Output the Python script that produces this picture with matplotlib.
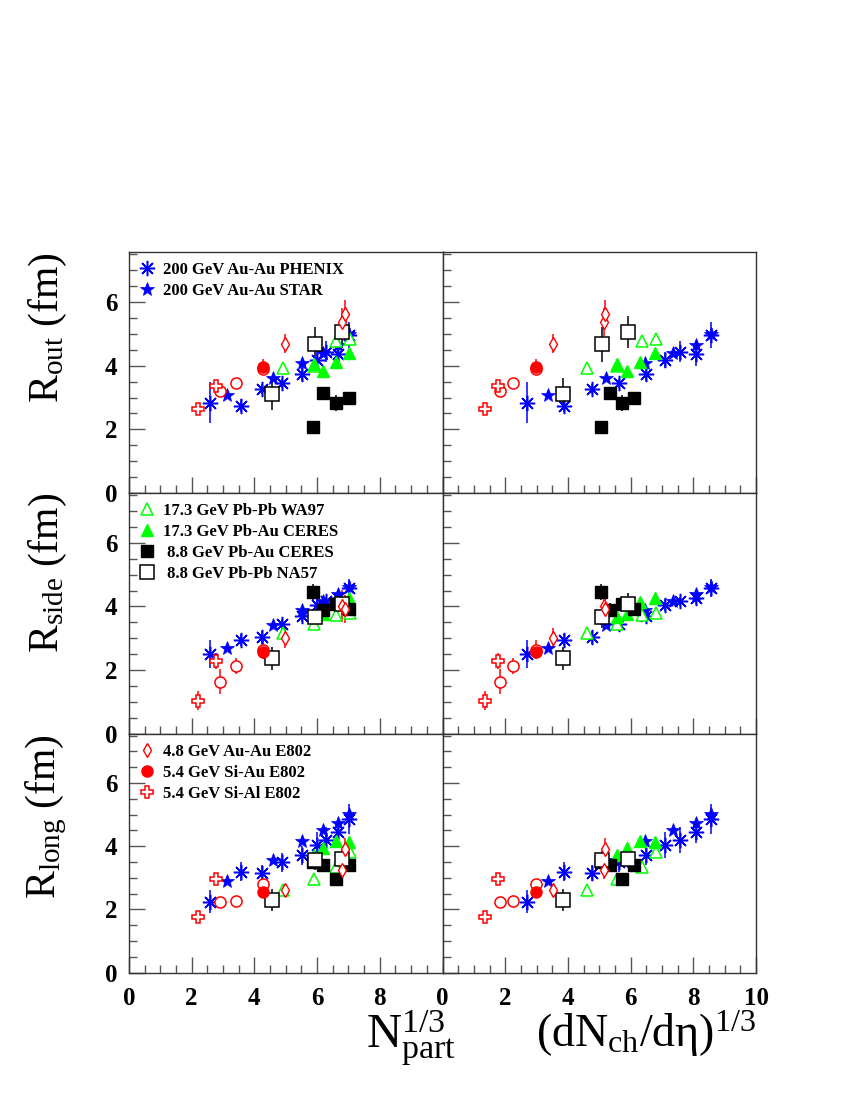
import matplotlib.pyplot as plt
import numpy as np
from matplotlib.ticker import MultipleLocator

plt.rcParams['font.family'] = 'serif'
plt.rcParams['font.serif'] = ['Liberation Serif', 'DejaVu Serif']
plt.rcParams['mathtext.fontset'] = 'custom'
plt.rcParams['mathtext.rm'] = 'Liberation Serif'
plt.rcParams['mathtext.it'] = 'Liberation Serif:italic'
plt.rcParams['mathtext.bf'] = 'Liberation Serif:bold'

# ------------------- data -------------------
# x: N_part^(1/3) (left column), (dN_ch/deta)^(1/3) (right column)
# y: R_out, R_side, R_long in fm, with errors

# 200 GeV Au-Au PHENIX
phenix_npart = [2.57, 3.56, 4.24, 4.88, 5.52, 6.01, 6.28, 6.67, 7.02]
phenix_dnch = [2.68, 3.88, 4.77, 5.63, 6.48, 7.11, 7.59, 8.08, 8.58]
phenix_rout = [2.84, 2.74, 3.27, 3.44, 3.73, 4.17, 4.44, 4.35, 4.96]
phenix_rout_err = [0.65, 0.2, 0.15, 0.15, 0.2, 0.25, 0.33, 0.37, 0.4]
phenix_rside = [2.51, 2.95, 3.03, 3.45, 3.71, 4.05, 4.16, 4.28, 4.58]
phenix_rside_err = [0.45, 0.2, 0.2, 0.15, 0.2, 0.2, 0.15, 0.2, 0.27]
phenix_rlong = [2.25, 3.19, 3.16, 3.50, 3.71, 4.04, 4.20, 4.44, 4.86]
phenix_rlong_err = [0.37, 0.3, 0.25, 0.3, 0.3, 0.4, 0.42, 0.35, 0.48]

# 200 GeV Au-Au STAR
star_npart = [3.13, 4.59, 5.52, 6.20, 6.67, 7.02]
star_dnch = [3.35, 5.22, 6.46, 7.36, 8.08, 8.58]
star_rout = [3.09, 3.62, 4.07, 4.41, 4.66, 4.98]
star_rside = [2.69, 3.41, 3.89, 4.17, 4.38, 4.60]
star_rlong = [2.90, 3.57, 4.18, 4.51, 4.73, 5.02]
star_err = [0.1, 0.1, 0.1, 0.1, 0.1, 0.1]

# 17.3 GeV Pb-Pb WA97
wa97_npart = [4.91, 5.89, 6.60, 7.04]
wa97_dnch = [4.61, 5.57, 6.36, 6.81]
wa97_rout = [3.91, 4.00, 4.77, 4.83]
wa97_rside = [3.16, 3.45, 3.73, 3.81]
wa97_rlong = [2.61, 2.95, 3.34, 3.81]
wa97_err = [0.1, 0.1, 0.1, 0.1]

# 17.3 GeV Pb-Au CERES
ceres17_npart = [5.89, 6.19, 6.60, 7.02]
ceres17_dnch = [5.57, 5.89, 6.31, 6.78]
ceres17_rout = [4.04, 3.83, 4.10, 4.38]
ceres17_rside = [3.66, 3.76, 4.14, 4.26]
ceres17_rlong = [3.71, 3.95, 4.16, 4.13]
ceres17_err = [0.15, 0.15, 0.15, 0.15]

# 8.8 GeV Pb-Au CERES
ceres9_npart = [5.88, 6.19, 6.60, 7.02]
ceres9_dnch = [5.04, 5.33, 5.71, 6.10]
ceres9_rout = [2.07, 3.14, 2.84, 2.98]
ceres9_rout_err = [0.2, 0.2, 0.25, 0.2]
ceres9_rside = [4.44, 3.90, 4.09, 3.91]
ceres9_rside_err = [0.25, 0.2, 0.2, 0.2]
ceres9_rlong = [3.50, 3.42, 2.95, 3.40]
ceres9_rlong_err = [0.2, 0.15, 0.15, 0.15]

# 8.8 GeV Pb-Pb NA57
na57_npart = [4.55, 5.93, 6.81]
na57_dnch = [3.85, 5.10, 5.91]
na57_rout = [3.10, 4.67, 5.06]
na57_rout_err = [0.5, 0.55, 0.5]
na57_rside = [2.37, 3.66, 4.08]
na57_rside_err = [0.35, 0.35, 0.35]
na57_rlong = [2.30, 3.55, 3.61]
na57_rlong_err = [0.35, 0.3, 0.3]

# 4.8 GeV Au-Au E802
auau_npart = [4.99, 6.81, 6.90]
auau_dnch = [3.53, 5.15, 5.19]
auau_rout = [4.69, 5.37, 5.61]
auau_rout_err = [0.3, 0.45, 0.45]
auau_rside = [3.01, 4.02, 3.92]
auau_rside_err = [0.3, 0.5, 0.45]
auau_rlong = [2.61, 3.26, 3.92]
auau_rlong_err = [0.2, 0.3, 0.35]

# 5.4 GeV Si-Au E802
siau_npart = [4.29]
siau_dnch = [2.97]
siau_rout = [3.97]
siau_rout_err = [0.25]
siau_rside = [2.56]
siau_rside_err = [0.2]
siau_rlong = [2.56]
siau_rlong_err = [0.2]

# second Si-Au set (open circles, not in the legend)
siau2_npart = [2.89, 3.42, 4.29]
siau2_dnch = [1.83, 2.26, 2.97]
siau2_rout = [3.21, 3.46, 3.89]
siau2_rout_err = [0.1, 0.1, 0.1]
siau2_rside = [1.64, 2.14, 2.64]
siau2_rside_err = [0.4, 0.25, 0.3]
siau2_rlong = [2.25, 2.28, 2.82]
siau2_rlong_err = [0.15, 0.15, 0.15]

# 5.4 GeV Si-Al E802
sial_npart = [2.21, 2.79]
sial_dnch = [1.34, 1.76]
sial_rout = [2.63, 3.37]
sial_rout_err = [0.1, 0.1]
sial_rside = [1.04, 2.30]
sial_rside_err = [0.3, 0.25]
sial_rlong = [1.76, 2.95]
sial_rlong_err = [0.1, 0.1]

BLUE, GREEN, RED, BLACK = '#0000ff', '#00ff00', '#ff0000', '#000000'

# label, x (npart, dnch), (R values), (errors), style, legend row
series = [
    ('200 GeV Au-Au PHENIX', phenix_npart, phenix_dnch,
     (phenix_rout, phenix_rside, phenix_rlong),
     (phenix_rout_err, phenix_rside_err, phenix_rlong_err),
     dict(marker=(8, 2, 0), color=BLUE, mfc=BLUE, ms=11, mew=1.1), 0),
    ('200 GeV Au-Au STAR', star_npart, star_dnch,
     (star_rout, star_rside, star_rlong), (star_err, star_err, star_err),
     dict(marker='*', color=BLUE, mfc=BLUE, ms=10, mew=0.5), 0),
    ('17.3 GeV Pb-Pb WA97', wa97_npart, wa97_dnch,
     (wa97_rout, wa97_rside, wa97_rlong), (wa97_err, wa97_err, wa97_err),
     dict(marker='^', color=GREEN, mfc='white', ms=9, mew=1.1), 1),
    ('17.3 GeV Pb-Au CERES', ceres17_npart, ceres17_dnch,
     (ceres17_rout, ceres17_rside, ceres17_rlong),
     (ceres17_err, ceres17_err, ceres17_err),
     dict(marker='^', color=GREEN, mfc=GREEN, ms=9, mew=1.0), 1),
    (' 8.8 GeV Pb-Au CERES', ceres9_npart, ceres9_dnch,
     (ceres9_rout, ceres9_rside, ceres9_rlong),
     (ceres9_rout_err, ceres9_rside_err, ceres9_rlong_err),
     dict(marker='s', color=BLACK, mfc=BLACK, ms=8, mew=1.0), 1),
    (' 8.8 GeV Pb-Pb NA57', na57_npart, na57_dnch,
     (na57_rout, na57_rside, na57_rlong),
     (na57_rout_err, na57_rside_err, na57_rlong_err),
     dict(marker='s', color=BLACK, mfc='white', ms=10, mew=1.1), 1),
    ('4.8 GeV Au-Au E802', auau_npart, auau_dnch,
     (auau_rout, auau_rside, auau_rlong),
     (auau_rout_err, auau_rside_err, auau_rlong_err),
     dict(marker='d', color=RED, mfc='white', ms=7.5, mew=1.0), 2),
    (None, siau2_npart, siau2_dnch,
     (siau2_rout, siau2_rside, siau2_rlong),
     (siau2_rout_err, siau2_rside_err, siau2_rlong_err),
     dict(marker='o', color=RED, mfc='white', ms=8, mew=1.1), None),
    ('5.4 GeV Si-Au E802', siau_npart, siau_dnch,
     (siau_rout, siau_rside, siau_rlong),
     (siau_rout_err, siau_rside_err, siau_rlong_err),
     dict(marker='o', color=RED, mfc=RED, ms=8, mew=1.0), 2),
    ('5.4 GeV Si-Al E802', sial_npart, sial_dnch,
     (sial_rout, sial_rside, sial_rlong),
     (sial_rout_err, sial_rside_err, sial_rlong_err),
     dict(marker='P', color=RED, mfc='white', ms=9, mew=1.1), 2),
]

row_labels = [r'$\mathrm{R_{out}\ (fm)}$', r'$\mathrm{R_{side}\ (fm)}$',
              r'$\mathrm{R_{long}\ (fm)}$']

# ------------------- layout (figure fractions) -------------------
fig = plt.figure(figsize=(8.5, 11), dpi=100)
col_x = [129 / 850, 442.5 / 850]
col_w = [313.5 / 850, 313.5 / 850]
row_top = [252.3, 493.3, 734.0]
row_bot = [493.3, 734.0, 972.7]

tick_font = dict(family='serif', weight='bold', size=18)

axes = [[None, None] for _ in range(3)]
for r in range(3):
    for c in range(2):
        ax = fig.add_axes([col_x[c], 1 - row_bot[r] / 1100, col_w[c],
                           (row_bot[r] - row_top[r]) / 1100])
        axes[r][c] = ax
        ax.set_xlim(0, 10)
        ax.set_ylim(0, 7.55)

        handles = []
        for label, xn, xd, rv, ev, st, lrow in series:
            x = xn if c == 0 else xd
            ax.errorbar(x, rv[r], yerr=ev[r], fmt='none', ecolor=st['color'],
                        elinewidth=1.1, capsize=0, zorder=2)
            h, = ax.plot(x, rv[r], ls='none', marker=st['marker'], ms=st['ms'],
                         mfc=st['mfc'], mec=st['color'], mew=st['mew'], zorder=3)
            if c == 0 and lrow == r:
                handles.append((h, label))

        if handles:
            ax.legend([h for h, _ in handles], [l for _, l in handles],
                      loc='upper left', bbox_to_anchor=(0.0, 1.0), frameon=False,
                      prop=dict(family='serif', weight='bold', size=12),
                      handlelength=1.0, handletextpad=0.45, labelspacing=0.3,
                      borderaxespad=0.4, borderpad=0.2)

        ax.xaxis.set_major_locator(MultipleLocator(2))
        ax.xaxis.set_minor_locator(MultipleLocator(0.5))
        ax.yaxis.set_major_locator(MultipleLocator(2))
        ax.yaxis.set_minor_locator(MultipleLocator(0.5))
        if c == 0 and r == 2:
            ax.set_xticks(np.arange(0, 9, 2))
        ax.tick_params(which='both', direction='in', top=False, right=False,
                       color='#555555', width=1.0)
        ax.tick_params(which='major', length=11.5)
        ax.tick_params(which='minor', length=5.8)
        ax.tick_params(axis='y', pad=8.5)
        ax.tick_params(axis='x', pad=10)
        for sp in ax.spines.values():
            sp.set_color('#333333')
            sp.set_linewidth(1.0)

        if r < 2:
            ax.tick_params(axis='x', labelbottom=False)
        if c == 1:
            ax.tick_params(axis='y', labelleft=False)
        for t in ax.get_xticklabels() + ax.get_yticklabels():
            t.set_fontproperties(tick_font)

        if c == 0:
            ax.set_ylabel(row_labels[r], loc='top', fontsize=30)
            ax.yaxis.set_label_coords(-0.19, 1.0)

axes[2][0].set_xlabel(r'$\mathrm{N_{part}^{1/3}}$', fontsize=35, loc='right')
axes[2][0].xaxis.set_label_coords(1.045, -0.15)
axes[2][1].set_xlabel(r'$\mathrm{(dN_{ch}/d\eta)^{1/3}}$', fontsize=33,
                      loc='right')
axes[2][1].xaxis.set_label_coords(1.0, -0.15)

fig.savefig('out.png', dpi=100)
